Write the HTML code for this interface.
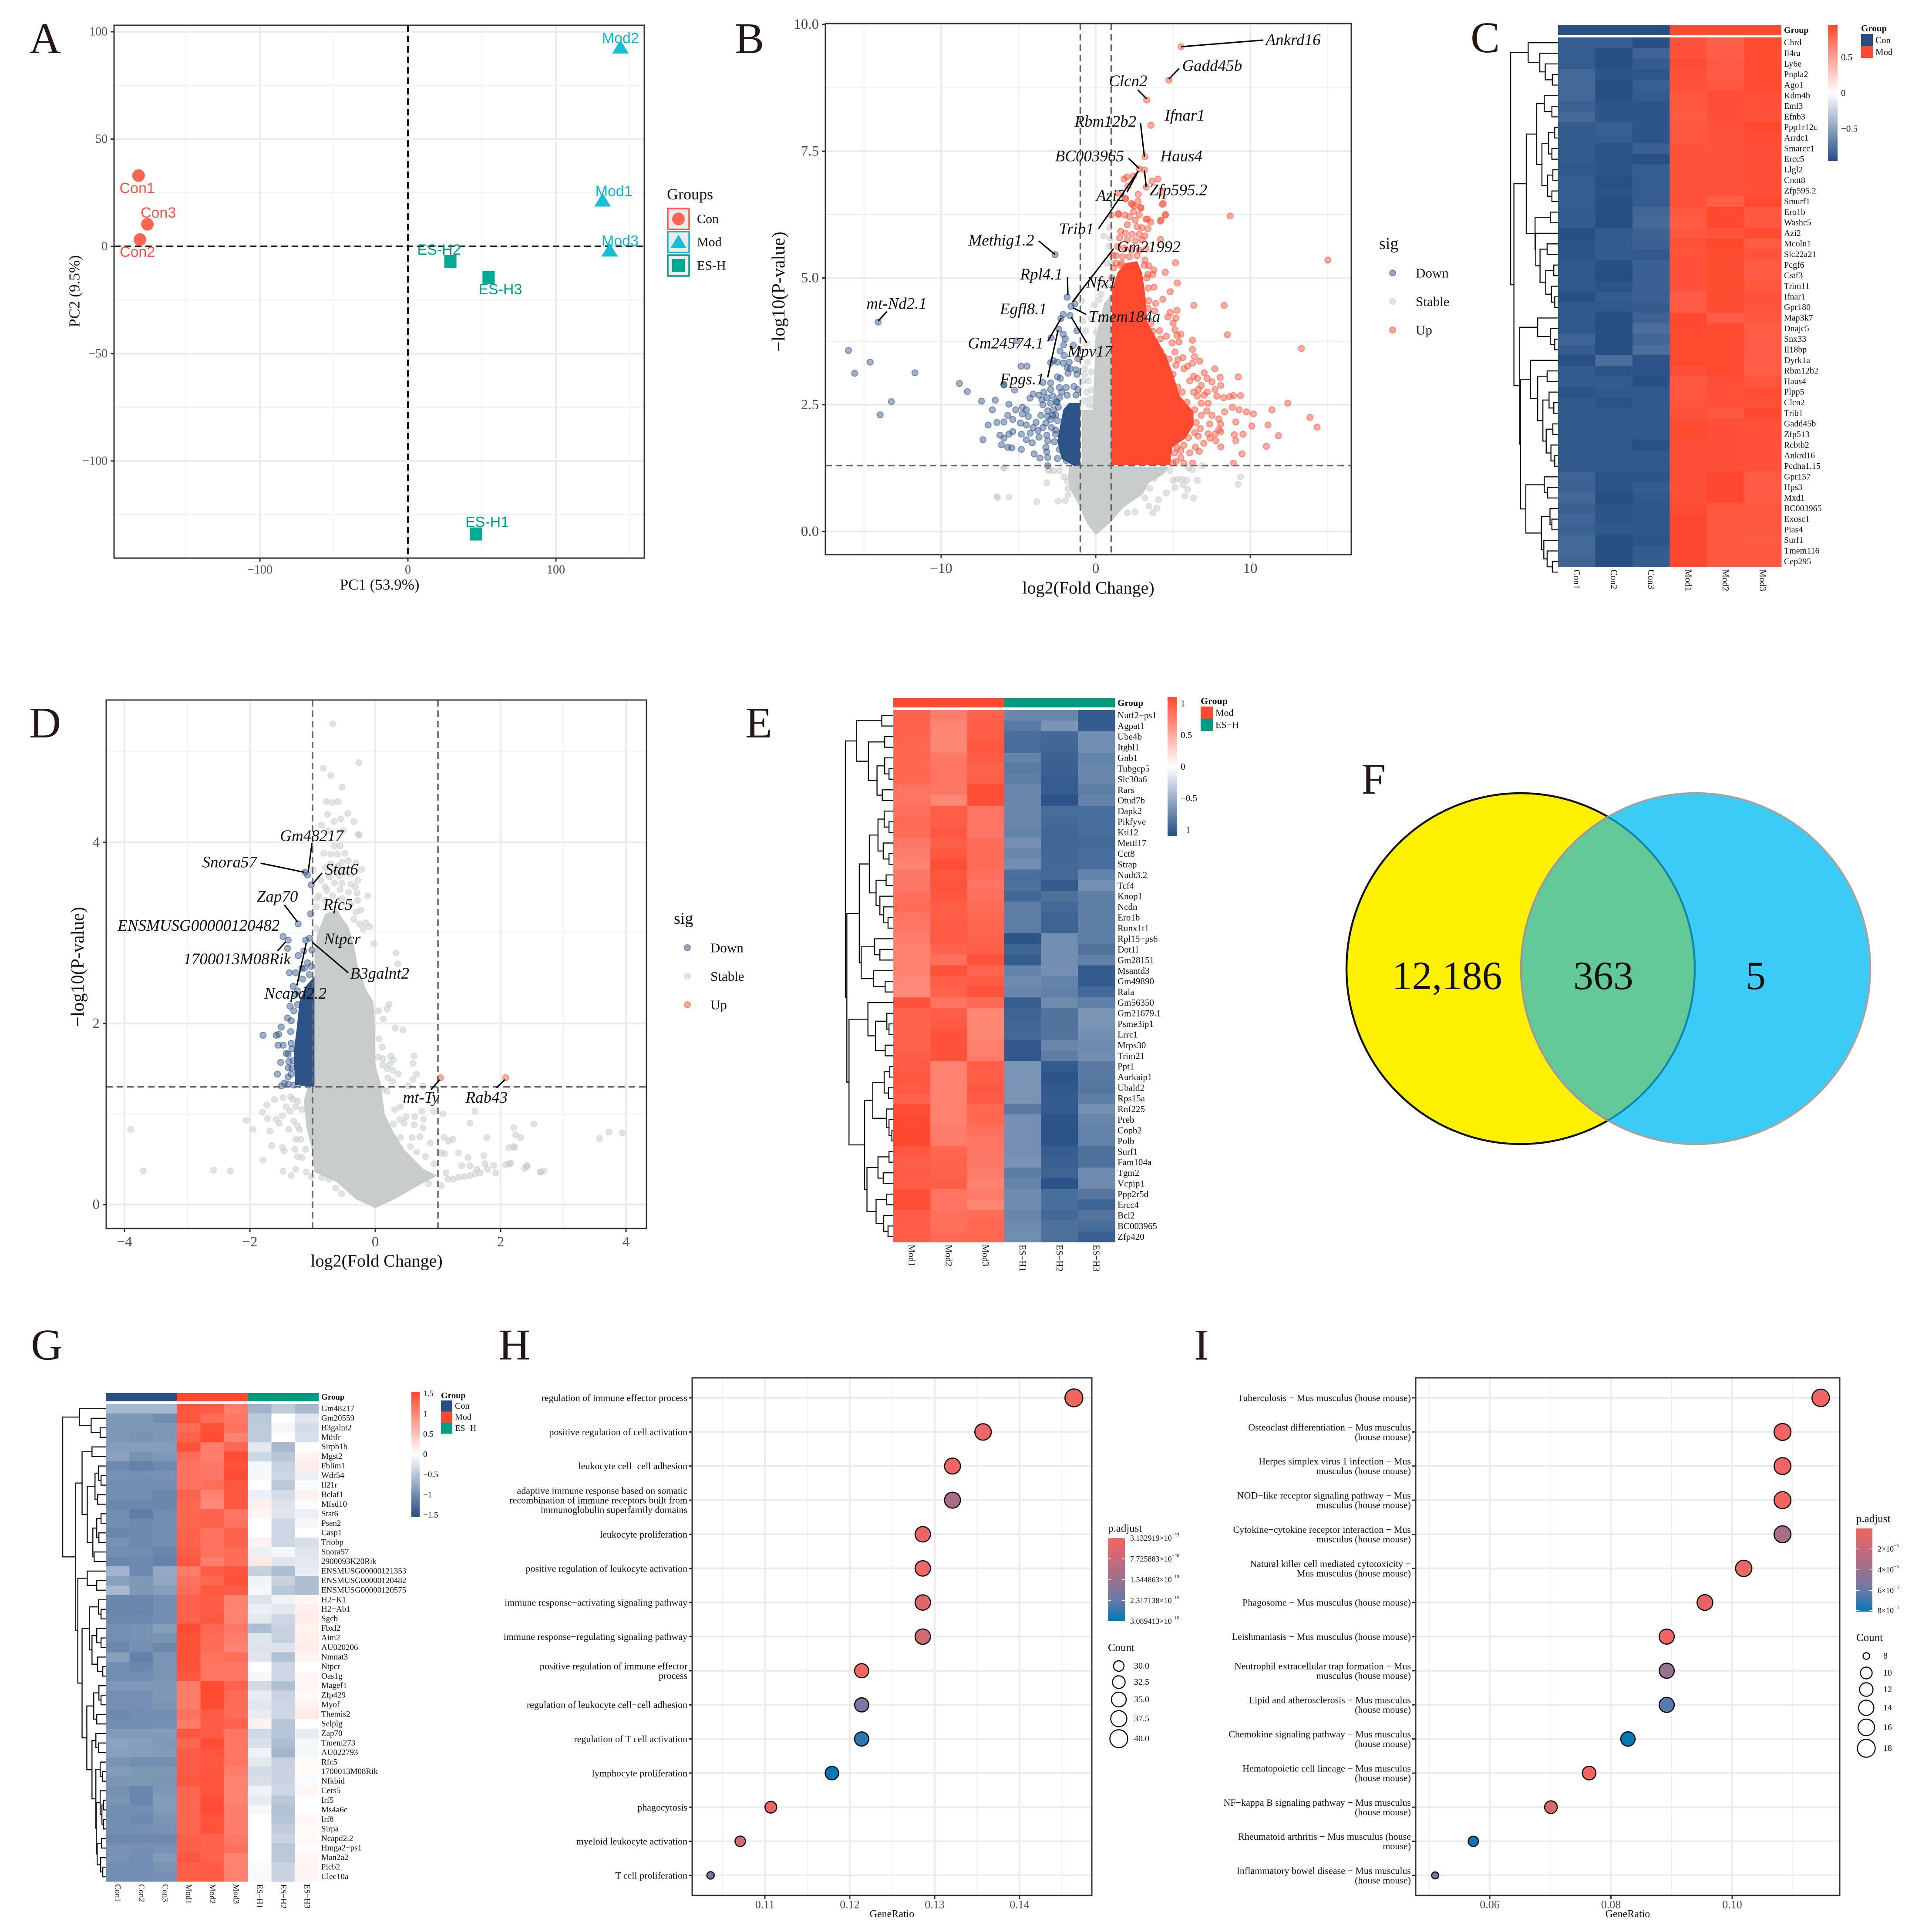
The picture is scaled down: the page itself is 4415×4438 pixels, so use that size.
<!DOCTYPE html>
<html lang="en">
<head>
<meta charset="utf-8">
<title>Multi-panel transcriptomics figure</title>
<style>
html,body{margin:0;padding:0;background:#fff;}
svg{display:block;}
text{font-family:"Liberation Serif",serif;}
.sans{font-family:"Liberation Sans",sans-serif;}
.letter{font-size:101px;fill:#231815;}
</style>
</head>
<body>
<svg id="figure" xmlns="http://www.w3.org/2000/svg" width="4415" height="4438" viewBox="0 0 4415 4438" fill="#111">
<rect x="0" y="0" width="4415" height="4438" fill="#ffffff"/>
<defs>
<clipPath id="clip-right"><ellipse cx="3895" cy="2225" rx="401" ry="403"/></clipPath>
<clipPath id="clip-left"><ellipse cx="3493" cy="2225" rx="400" ry="403"/></clipPath>
</defs>
<g id="panel-a"></g>
<g id="panel-b"></g>
<g id="panel-c"></g>
<g id="panel-d"></g>
<g id="panel-e"></g>
<g id="panel-f">
  <ellipse cx="3493" cy="2225" rx="400" ry="403" fill="#fff000" stroke="#111" stroke-width="4.5"/>
  <ellipse cx="3895" cy="2225" rx="401" ry="403" fill="#3bcdf8" stroke="#a3a3a3" stroke-width="4.5"/>
  <ellipse cx="3493" cy="2225" rx="400" ry="403" fill="#64c998" clip-path="url(#clip-right)"/>
  <ellipse cx="3895" cy="2225" rx="401" ry="403" fill="none" stroke="#9a9a9a" stroke-width="4.5" clip-path="url(#clip-left)"/>
  <ellipse cx="3493" cy="2225" rx="400" ry="403" fill="none" stroke="#0f86a8" stroke-width="4.5" clip-path="url(#clip-right)"/>
  <text x="3324" y="2272" text-anchor="middle" font-size="92">12,186</text>
  <text x="3683" y="2272" text-anchor="middle" font-size="92">363</text>
  <text x="4033" y="2272" text-anchor="middle" font-size="92">5</text>
</g>
<g id="panel-g"></g>
<g id="panel-h"></g>
<g id="panel-i"></g>
<g>
  <text class="letter" x="67" y="122">A</text>
  <text class="letter" x="1688" y="122">B</text>
  <text class="letter" x="3378" y="120">C</text>
  <text class="letter" x="67" y="1694">D</text>
  <text class="letter" x="1712" y="1694">E</text>
  <text class="letter" x="3127" y="1823">F</text>
  <text class="letter" x="71" y="3123">G</text>
  <text class="letter" x="1145" y="3123">H</text>
  <text class="letter" x="2743" y="3123">I</text>
</g>
</svg>
<script>
/* ---------- Panel A data ---------- */
const pcaCon = [["Con1",-182,33],["Con3",-176,10.3],["Con2",-181,3.2]];
const pcaMod = [["Mod2",143.6,92.7],["Mod1",131.5,21.4],["Mod3",136.3,-1.9]];
const pcaEs = [["ES-H2",28.7,-7.1],["ES-H3",54.5,-14.6],["ES-H1",45.9,-134]];
const pcaXTicks = [-100,0,100];
const pcaYTicks = [100,50,0,-50,-100];

/* ---------- Panel B data ---------- */
const bUpPoints = [[5.53,9.56],[4.73,8.9],[3.3,8.51],[3.57,8.01],[3.18,7.39],[2.81,7.15],[3.15,7.13],[3.27,6.79],[2.02,6.99],[2.44,7.01],[1.83,6.95],[2.08,6.81],[3.63,6.91],[4.03,6.95],[4.27,6.69],[4.37,6.47],[4.52,6.25],[4.21,6.14],[8.7,6.22],[1.44,6.67],[2.75,6.65],[1.92,6.57],[2.38,6.45],[2.9,6.39],[1,6.24],[1.47,6.27],[1.89,6.24],[2.44,6.31],[3.36,6.16],[15.02,5.35],[13.31,3.61],[13.86,2.25],[14.32,2.06],[8.31,4.46],[6.35,4.46],[8.52,3.88],
[1.92,6.56],[2.3,6.47],[2.74,6.51],[2.93,6.38],[2.49,6.42],[4.31,6.45],[1.48,6.25],[2.18,6.21],[2.55,6.14],[2.81,6.25],[3.25,6.16],[3.56,6.1],[2.05,6.05],[2.68,6.01],[2.99,5.99],[3.37,5.97],[1.61,5.92],[1.92,5.88],[2.36,5.86],[2.81,5.86],[3.18,5.83],[4.19,6.12],[4.5,6.24],[4.19,5.76],[1.55,5.79],[2.05,5.75],[2.55,5.73],[2.99,5.75],[1.42,5.62],[1.86,5.59],[2.3,5.55],[2.81,5.55],[3.25,5.57],[1.3,5.44],[1.74,5.42],[2.18,5.42],[2.68,5.44],[3.18,5.35],[1.3,5.29],[1.67,5.29],[3.43,5.24],[3.75,5.16],[3.37,5.07],[3.69,5.07],[4.5,5.11],[5.16,5.3],[5.28,4.9],[3.77,4.82],[4.82,4.73],[4.34,4.58],[3.43,4.55],[3.87,4.5],[3.81,4.35],[4.82,4.32],[5.26,4.36],[4.67,4.23],[5.19,4.21],[5.01,4.11],[5.13,3.98],[4.13,3.96],[5.51,3.89],[5.26,3.87],[4.57,3.85],[4.19,3.8],[5.38,3.74],[4.94,3.72],[6.26,3.77],[6.26,3.59],[5.13,3.54],[6.39,3.45],[6.73,3.36],[5.64,3.43],[5.32,3.39],[6.26,3.32],[5.95,3.26],[5.19,3.28],[7.71,3.21],[7.02,3.13],[5.7,3.21],[6.33,3.06],[7.21,3.02],[9.22,3.05],[8.05,3.04],[6.58,3.02],[6.08,2.97],[6.83,2.88],[7.52,2.95],[8.09,2.88],[6.64,2.8],[7.21,2.75],[7.71,2.8],[7.02,2.69],[6.33,2.75],[7.84,2.67],[8.28,2.64],[8.65,2.66],[8.91,2.68],[9.37,2.68],[6.58,2.67],[7.27,2.53],[6.83,2.53],[8.84,2.45],[12.43,2.53],[9.28,2.4],[9.75,2.36],[10.2,2.32],[11.4,2.4],[8.34,2.36],[7.18,2.38],[6.83,2.29],[7.52,2.29],[7.96,2.22],[9.06,2.16],[8.09,2.12],[7.37,2.12],[10.1,2.08],[11.15,2.1],[6.77,2.03],[7.96,2.01],[7.27,1.93],[7.71,1.92],[8.09,1.97],[8.97,1.91],[9.53,1.92],[11.82,1.89],[6.64,1.88],[7.4,1.84],[7.77,1.79],[9.06,1.79],[6.99,1.74],[8.09,1.67],[11.04,1.68],[9.47,1.53],[6.45,1.66],[6.7,1.58],[6.08,1.55],[5.7,1.7],[5.26,1.66],[5.51,1.46],[5.19,1.38],[6.26,1.35],[8.91,1.35],[5.7,1.35],
[3.4,4.4],[3.55,4.1],[3.7,3.95],[4.2,3.55],[4.4,3.45],[4.75,3.4],[5,3.1],[5.3,2.85],[5.6,2.75],[5.9,2.55],[6.4,2.4],[6.5,2.15],[6.4,1.95],[6,1.85],[5.5,1.6],[5.1,1.55],[5,1.35],[3.4,4.8],[3.3,5],[3.15,5.25],[1.6,5.25],[1.15,5.2],[1.05,5],[1.1,5.45]];
const bDownPoints = [[-14.08,4.13],[-2.63,5.46],[-16,3.57],[-14.6,3.34],[-15.6,3.12],[-11.7,3.13],[-8.82,2.92],[-8.31,2.76],[-13.22,2.56],[-13.95,2.3],[-7.39,2.57],[-6.5,2.59],[-5.95,2.9],[-5.13,3.76],[-6.69,2.4],[-6.96,2.1],[-7.3,1.81],[-6.1,1.71],[-6.4,2.15],[-6.2,1.9],
[-1.85,4.62],[-1.6,4.44],[-1.35,4.49],[-2.1,4.28],[-1.66,4.26],[-2.25,4.2],[-2.39,3.99],[-1.22,3.96],[-2.1,3.89],[-2.89,3.82],[-1.97,3.8],[-2.08,3.68],[-1.45,3.67],[-2.31,3.56],[-2.04,3.47],[-1.16,3.41],[-2.92,3.33],[-2.73,3.37],[-2.48,3.34],[-1.72,3.34],[-2.1,3.32],[-4.83,3.26],[-4.45,3.26],[-1.66,3.21],[-1.85,3.23],[-1.28,3.19],[-1.79,3.12],[-1.22,3.1],[-2.48,3.05],[-2.29,3.02],[-2.92,2.93],[-3.42,2.94],[-5.94,2.89],[-5.25,2.79],
[-2.35,2.84],[-1.91,2.84],[-1.41,2.86],[-2.92,2.8],[-3.36,2.75],[-1.16,2.8],[-4.05,2.71],[-4.26,2.63],[-3.67,2.69],[-3.17,2.64],[-2.79,2.67],[-2.35,2.64],[-1.85,2.69],[-1.28,2.69],[-3.48,2.6],[-3.42,2.5],[-5.62,2.51],[-2.92,2.53],[-2.54,2.56],[-4.74,2.45],[-5.18,2.4],[-4.49,2.4],[-3.11,2.38],[-2.73,2.4],[-2.42,2.45],[-5.69,2.29],[-4.36,2.27],[-3.55,2.29],[-3.11,2.27],[-2.79,2.29],[-4.74,2.32],[-5.94,2.16],[-5.37,2.21],[-4.87,2.14],[-3.86,2.15],[-2.48,2.19],[-3.23,2.14],[-2.92,2.21],[-4.49,2.1],[-4.05,2.05],[-3.42,2.05],[-2.86,2.05],[-5.37,1.97],[-4.81,1.92],[-4.24,1.94],[-3.74,1.99],[-3.17,1.9],[-2.6,1.92],[-5.62,1.92],[-5.94,1.84],[-4.49,1.81],[-4.11,1.75],[-3.67,1.86],[-3.11,1.79],[-2.67,1.77],[-5.43,1.65],[-5.69,1.66],[-4.81,1.62],[-3.23,1.66],[-2.35,1.62],[-3.99,1.53],[-3.17,1.57],[-3.61,1.45],[-3.11,1.46],[-2.48,1.44],[-3.11,1.3],[-1.91,1.4],[-2.2,2.75],[-2.6,2.3],[-2.5,2.55],[-2.6,2.0]];
const bStablePoints = [[-6.41,0.69],[-6.35,0.67],[-5.95,1.25],[-0.53,3.34],[-0.72,3.21],[-0.28,3.15],[-0.72,3.1],[-0.47,2.97],[-0.78,2.97],[-0.28,2.8],[-0.59,2.75],[-0.34,2.62],[-0.72,2.58],[-0.4,2.49],[-0.84,4.15],[-0.91,4.55],[-0.65,3.96],[0.04,3.93],[0.35,4.68],[0.23,4.57],[-0.09,4.47],[0.73,5.29],[1.02,5.29],[0.86,5.62],[0.94,5.78],[0.52,5.83],[0.88,5.99],[5.01,1.01],[5.26,1.03],[5.57,1.03],[5.89,1.01],[6.58,1.01],[9.37,1.08],[9.22,0.93],[5.13,0.87],[5.64,0.92],[4.57,0.76],[5.95,0.83],[5.76,0.7],[6.33,0.66],[4.06,0.63],[3.43,0.5],[3.94,0.46],[3.18,0.66],[2.55,0.39],[2.05,0.37],[3.69,0.37],[-1.79,0.72],[-2.42,0.6],[-1.97,0.61],[-3.82,0.59],[-5.62,0.68],[-3.17,0.96],[-2.04,1.08],[-2.35,1.2],[-2.73,1.2],[-3.04,1.22],[-5.94,1.26],[6.89,1.3],[6.26,1.22],[6.01,1.25],[-3.05,1.2],[4.8,1.2],[3.8,1.05],[3.5,0.85],[2.6,0.75],[-1.85,1.0],[-1.8,0.85],[0.3,4.9],[0.7,4.85],[-0.3,4.2],[-0.6,3.7]];
const bUpCore = [[1,1.31],[1.04,4.76],[1.42,5.11],[1.92,5.29],[2.68,5.33],[2.99,5.11],[3.12,4.85],[3.25,4.55],[3.31,4.15],[3.94,3.8],[4.57,3.45],[4.94,3.15],[5.45,2.67],[6.33,2.36],[6.33,2.1],[5.82,1.84],[4.94,1.66],[4.82,1.31]];
const bDownCore = [[-1,1.29],[-1,2.54],[-1.72,2.54],[-2.1,2.4],[-2.3,2.1],[-2.48,1.79],[-2.23,1.44],[-1.41,1.29]];
const bStableCore = [[0,-0.07],[-0.59,0.17],[-1.09,0.52],[-1.72,0.87],[-1.79,1.09],[-1.72,1.29],[-0.91,1.29],[-0.91,2.4],[-0.21,2.4],[-0.09,3.1],[-0.03,3.76],[0.29,4.2],[0.54,4.5],[1,4.68],[1,1.29],[4.69,1.27],[4.44,1.14],[3.43,0.96],[3.06,0.74],[1.8,0.48],[0.92,0.17]];
const bXTicks = [-10,0,10];
const bYTicks = [0,2.5,5,7.5,10];
const bLabels = [
 ["Ankrd16",11,9.69,5.53,9.56,10.84,9.69],["Gadd45b",5.59,9.18,4.73,8.92,5.4,9.13],["Clcn2",0.85,8.88,3.3,8.53,2.72,8.71],["Ifnar1",4.46,8.2],
 ["Rbm12b2",-1.37,8.08,2.9,8.05,3.15,7.39],["BC003965",-2.63,7.4,2.11,7.36,2.81,7.16],["Haus4",4.18,7.4],["Zfp595.2",3.48,6.73,3.15,7.12,3.27,6.79],
 ["Azi2",0.03,6.62,2.75,7.11,2.02,6.69],["Trib1",-2.38,5.96,0.18,5.97,2.75,7.11],["Methig1.2",-8.24,5.74,-3.69,5.73,-2.63,5.46],["Gm21992",1.37,5.61,1.16,5.58,-1.5,4.53],
 ["Rpl4.1",-4.89,5.07,-1.83,5.02,-1.8,4.66],["Nfx1",-0.61,4.91,-0.67,4.86,-1.47,4.53],["mt-Nd2.1",-14.84,4.49,-13.5,4.34,-14.08,4.15],["Egfl8.1",-6.2,4.38],
 ["Tmem184a",-0.46,4.23,-0.61,4.28,-1.47,4.41],["Gm24574.1",-8.27,3.71,-3.11,3.75,-2.23,4.21],["Mpv17",-1.83,3.55,-0.58,3.72,-1.59,4.23],["Fpgs.1",-6.2,3,-3.11,3.04,-2.44,3.97]];

/* ---------- Panel D data ---------- */
const dUpPoints = [[1.04,1.4],[2.08,1.4]];
const dDownPoints = [[-1.47,2.96],[-1.39,2.92],[-1.23,3.1],[-1.03,3.21],[-1.02,3.53],[-1.08,3.64],[-1.12,3.67],[-1.05,2.94],[-1.11,2.92],[-1.01,2.81],[-1.4,2.83],[-1.14,2.8],[-1.23,2.75],[-1.08,2.67],[-1.02,2.63],[-1.17,2.61],[-1.13,2.61],[-1.37,2.56],[-1.27,2.56],[-1.05,2.54],[-1.16,2.49],[-1.31,2.41],[-1.24,2.36],[-1.27,2.32],[-1.24,2.21],[-1.36,2.19],[-1.3,2.14],[-1.4,2.06],[-1.34,2.03],[-1.5,1.96],[-1.79,1.87],[-1.58,1.87],[-1.54,1.88],[-1.35,1.91],[-1.34,1.78],[-1.55,1.76],[-1.47,1.76],[-1.33,1.72],[-1.42,1.67],[-1.39,1.66],[-1.51,1.57],[-1.38,1.58],[-1.31,1.59],[-1.39,1.51],[-1.56,1.44],[-1.33,1.51],[-1.34,1.44],[-1.39,1.41],[-1.45,1.34],[-1.5,1.31],[-1.39,1.33],[-1.3,1.32]];
const dStablePoints = [[-0.68,5.31],[-0.26,4.88],[-0.83,4.82],[-0.71,4.74],[-0.53,4.61],[-0.78,4.45],[-0.68,4.44],[-0.59,4.45],[-0.44,4.32],[-0.76,4.31],[-0.55,4.26],[-0.66,4.23],[-0.34,4.23],[-0.86,4.19],[-0.75,4.13],[-0.51,4.13],[-0.26,4.08],
[-0.27,4.09],[-0.56,3.96],[-0.65,3.96],[-0.48,3.88],[-0.82,3.88],[-0.71,3.87],[-0.6,3.87],[-0.53,3.78],[-0.43,3.8],[-0.71,3.76],[-0.59,3.74],[-0.31,3.77],[-0.79,3.72],[-0.65,3.69],[-0.49,3.69],[-0.22,3.7],[-0.99,3.7],[-0.39,3.65],[-0.87,3.58],[-0.73,3.62],[-0.57,3.63],[-0.28,3.58],[-0.8,3.51],[-0.65,3.55],[-0.53,3.55],[-0.39,3.54],[-0.32,3.51],[-0.77,3.47],[-0.56,3.48],[-0.43,3.45],[-0.12,3.41],[-0.9,3.41],[-0.29,3.44],[-0.68,3.41],[-0.28,3.36],[-0.93,3.38],[-0.8,3.36],[-0.53,3.38],[-0.94,3.29],[-0.39,3.32],[-0.23,3.25],[-0.31,3.23],[-0.15,3.11],[-0.34,3.15],[-0.19,3.04],[-0.09,3.07],[-0.25,3.1],[-0.94,3.05],[-0.02,2.88],[0.33,2.78],[0.36,2.66],[0.22,2.21],[0.19,2.16],[0.13,2.05],[0.32,1.95],[0.44,1.93],[0.05,2.14],[0.06,1.83],[0.11,1.74],[0.05,1.63],[0.25,1.64],[0.29,1.6],[0.12,1.61],[0.12,1.54],[0.23,1.55],[0.62,1.64],[0.6,1.56],[0.19,1.5],[0.28,1.48],[0.66,1.44],[0.6,1.38],[0.37,1.44],[0.2,1.4],[0.28,1.36],[0.53,1.31],[0.76,1.31],[0.12,1.27],[0.19,1.25],[0.31,1.05],[0.4,1.08],[0.49,0.97],[0.63,0.97],[0.74,1.03],[0.93,1.03],[1.08,1],[1.59,1.03],[1.51,0.9],[2.53,0.89],[2.21,0.85],[2.24,0.77],[2.32,0.74],[1.78,0.74],[1.1,0.74],[1.24,0.72],[1.17,0.7],[2.13,0.63],[2.21,0.64],[0.46,0.9],[0.62,0.88],[0.76,0.85],[0.77,0.94],[0.29,0.89],[0.39,0.94],[0.4,0.74],[0.59,0.74],[0.71,0.75],[0.88,0.68],[1.33,0.57],[1.73,0.54],[1.05,0.57],[1.11,0.56],[1.48,0.52],[1.38,0.43],[1.51,0.43],[1.75,0.45],[1.89,0.43],[2.08,0.44],[2.16,0.46],[1.62,0.39],[1.79,0.39],[1.92,0.35],[2.38,0.4],[2.42,0.43],[2.63,0.36],[1.67,0.35],[1.59,0.34],[1.51,0.32],[1.42,0.31],[1.33,0.3],[1.24,0.28],[1.16,0.28],[1.13,0.35],[1.05,0.21],[0.85,0.23],[0.94,0.45],[0.8,0.53],[0.66,0.58],[0.56,0.64],
[-1.61,1.16],[-1.47,1.18],[-1.73,1.1],[-1.8,1.02],[-2.06,0.93],[-1.72,0.95],[-1.58,0.94],[-1.53,0.9],[-1.48,0.98],[-1.42,1.08],[-1.31,1.16],[-1.24,1.14],[-1.36,1.03],[-1.3,0.92],[-1.95,0.83],[-1.68,0.81],[-1.38,0.83],[-1.24,0.87],[-1.65,0.65],[-1.48,0.63],[-1.45,0.59],[-1.27,0.72],[-1.19,0.72],[-1.28,0.61],[-1.17,0.52],[-1.24,0.53],[-1.79,0.49],[-1.47,0.37],[-1.34,0.32],[-1.27,0.39],[-1.1,0.36],[-1.02,0.31],[-0.85,0.3],[-0.74,0.28],[-0.54,0.12],[-0.63,0.18],[-1.35,1.19],[-1.17,1.05],[-1.21,0.83],[-1.11,0.61],[-1.27,1.08],
[3.58,0.73],[3.73,0.8],[3.94,0.79],[-3.9,0.83],[-3.7,0.37],[-2.58,0.38],[-2.31,0.37],[2.22,0.63],[2.14,0.45],[2.42,0.42],[2.64,0.36],[2.69,0.37]];
const dDownCore = [[-0.97,2.52],[-1.11,2.41],[-1.21,2.24],[-1.25,1.96],[-1.3,1.69],[-1.28,1.32],[-0.97,1.3]];
const dStableCore = [[0,-0.04],[-0.31,0.06],[-0.62,0.25],[-0.97,0.36],[-1.02,0.64],[-1.1,0.86],[-1.14,1.14],[-1.08,1.29],[-0.97,1.3],[-0.97,2.74],[-0.93,2.98],[-0.8,3.21],[-0.62,3.26],[-0.43,3.07],[-0.34,2.87],[-0.28,2.63],[-0.15,2.38],[-0.03,2.24],[0,1.91],[0,1.55],[0.09,1.33],[0.15,1],[0.28,0.81],[0.46,0.61],[0.77,0.39],[0.99,0.32],[0.74,0.23],[0.31,0.06]];
const dXTicks = [-4,-2,0,2,4];
const dYTicks = [0,2,4];
const dLabels = [
 ["Gm48217",-1.52,4.07,-1.01,3.99,-1.07,3.67],["Snora57",-2.76,3.78,-1.83,3.77,-1.13,3.67],["Stat6",-0.8,3.7,-0.85,3.66,-1,3.54],["Zap70",-1.89,3.4,-1.45,3.31,-1.24,3.12],
 ["Rfc5",-0.83,3.31],["ENSMUSG00000120482",-4.11,3.08],["1700013M08Rik",-3.06,2.71,-1.56,2.8,-1.43,2.9],["Ntpcr",-0.82,2.93],["B3galnt2",-0.4,2.55,-0.43,2.56,-1.01,2.9],
 ["Ncapd2.2",-1.77,2.33,-1.25,2.42,-1.1,2.89],["mt-Ty",0.44,1.18,0.89,1.27,1.03,1.38],["Rab43",1.44,1.18,1.93,1.29,2.07,1.38]];

/* ---------- Panel C data ---------- */
const cGenes = ["Chrd","Il4ra","Ly6e","Pnpla2","Ago1","Kdm4b","Eml3","Efnb3","Ppp1r12c","Arrdc1","Smarcc1","Ercc5","Llgl2","Cnot8","Zfp595.2","Smurf1","Ero1b","Washc5","Azi2","Mcoln1","Slc22a21","Pcgf6","Cstf3","Trim11","Ifnar1","Gpr180","Map3k7","Dnajc5","Snx33","Il18bp","Dyrk1a","Rbm12b2","Haus4","Plpp5","Clcn2","Trib1","Gadd45b","Zfp513","Rcbtb2","Ankrd16","Pcdha1.15","Gpr157","Hps3","Mxd1","BC003965","Exosc1","Pias4","Surf1","Tmem116","Cep295"];
const cSamples = ["Con1","Con2","Con3","Mod1","Mod2","Mod3"];
const cMatrix = [[-.78,-.78,-.92,.82,.72,.92],[-.78,-.93,-.72,.82,.72,.92],[-.78,-.93,-.8,.9,.75,.92],[-.68,-.88,-.87,.85,.75,.92],[-.68,-.93,-.77,.85,.78,.93],[-.68,-.95,-.8,.78,.88,.88],[-.75,-.87,-.87,.78,.88,.85],[-.65,-.87,-.87,.75,.88,.85],[-.8,-.75,-.88,.8,.82,.95],[-.8,-.78,-.9,.8,.82,.9],[-.8,-.88,-.75,.82,.82,.88],[-.8,-.88,-.93,.82,.82,.88],[-.85,-.88,-.78,.82,.83,.88],[-.78,-.93,-.78,.82,.83,.88],[-.78,-.9,-.78,.82,.85,.88],[-.78,-.93,-.78,.83,.72,.97],[-.82,-.93,-.7,.8,.95,.78],[-.82,-.95,-.65,.75,.95,.78],[-.95,-.8,-.73,.78,.82,.92],[-.9,-.82,-.76,.88,.96,.75],[-.9,-.82,-.85,.82,.92,.82],[-.85,-.92,-.75,.85,.9,.75],[-.85,-.97,-.75,.85,.9,.75],[-.85,-.9,-.75,.85,.9,.8],[-.93,-.8,-.75,.75,.9,.82],[-.85,-.85,-.8,.75,.9,.82],[-.85,-.96,-.72,.95,.72,.78],[-.85,-.96,-.62,.93,.92,.72],[-.72,-.96,-.7,.93,.92,.72],[-.8,-.96,-.62,.93,.92,.72],[-.92,-.62,-.9,.93,.93,.72],[-.8,-.88,-.9,.88,.93,.72],[-.8,-.82,-.92,.78,.88,.8],[-.9,-.84,-.84,.78,.85,.9],[-.85,-.9,-.84,.82,.85,.88],[-.85,-.85,-.85,.82,.78,.95],[-.85,-.85,-.85,.92,.87,.85],[-.85,-.85,-.85,.92,.87,.85],[-.85,-.85,-.92,.88,.87,.85],[-.85,-.85,-.85,.88,.87,.85],[-.85,-.85,-.85,.88,.87,.85],[-.72,-.9,-.88,.88,.96,.75],[-.75,-.9,-.8,.88,.96,.75],[-.68,-.97,-.85,.88,.96,.75],[-.75,-.88,-.86,.92,.8,.8],[-.7,-.88,-.86,.95,.78,.78],[-.75,-.85,-.86,.95,.78,.78],[-.68,-.96,-.88,.95,.78,.74],[-.68,-.96,-.82,.95,.78,.78],[-.72,-.95,-.82,.95,.78,.78]];
const cTree = [1,[.63,0,[.385,0,[.27,0,[.12,0,0]]]],[.93,[.67,[.45,[.29,0,[.13,0,0]],[.34,[.2,[.07,0,0],[.13,0,0]],[.22,[.11,0,0],[.13,0,0]]]],[.485,[.16,0,0],[.47,0,[.38,[.23,0,0],[.26,[.09,0,0],[.14,0,[.07,0,0]]]]]]],[.81,[.43,0,[.16,0,[.07,0,0]]],[.79,[.58,0,[.43,[.23,0,0],[.32,[.19,0,[.09,0,0]],[.25,[.11,0,0],[.15,0,[.07,0,0]]]]]],[.68,[.29,0,[.22,0,0]],[.35,[.17,0,[.13,0,0]],[.3,0,[.23,0,[.12,0,0]]]]]]]]];

/* ---------- Panel E data ---------- */
const eGenes = ["Nutf2−ps1","Agpat1","Ube4b","Itgbl1","Gnb1","Tubgcp5","Slc30a6","Rars","Otud7b","Dapk2","Pikfyve","Kti12","Mettl17","Cct8","Strap","Nudt3.2","Tcf4","Knop1","Ncdn","Ero1b","Runx1t1","Rpl15−ps6","Dot1l","Gm28151","Msantd3","Gm49890","Rala","Gm56350","Gm21679.1","Psme3ip1","Lrrc1","Mrps30","Trim21","Ppt1","Aurkaip1","Ubald2","Rps15a","Rnf225","Preb","Copb2","Polb","Surf1","Fam104a","Tgm2","Vcpip1","Ppp2r5d","Ercc4","Bcl2","BC003965","Zfp420"];
const eSamples = ["Mod1","Mod2","Mod3","ES−H1","ES−H2","ES−H3"];
const eMatrix = [[.88,.68,.9,-.65,-.65,-1],[.88,.62,.92,-.75,-.55,-1],[.88,.62,.92,-.85,-.88,-.6],[.85,.62,.97,-.85,-.9,-.6],[.85,.72,.95,-.68,-.93,-.68],[.85,.75,.88,-.75,-.95,-.65],[.85,.75,.92,-.72,-.97,-.65],[.75,.72,1.05,-.65,-.97,-.72],[.75,.62,1.05,-.65,-1.05,-.68],[.78,.92,.75,-.65,-.85,-.85],[.82,.92,.75,-.65,-.88,-.85],[.8,.97,.72,-.68,-.9,-.85],[.72,.92,.8,-.58,-.9,-.88],[.68,.97,.82,-.65,-.9,-.85],[.65,1.05,.8,-.6,-.88,-.85],[.72,.98,.78,-.85,-.88,-.68],[.72,1,.75,-.82,-1,-.58],[.78,.97,.78,-.9,-.82,-.7],[.8,.92,.82,-.72,-.88,-.72],[.75,.92,.85,-.72,-.92,-.72],[.72,.95,.85,-.72,-.92,-.72],[.68,.95,.88,-1.05,-.6,-.72],[.65,.88,.92,-.92,-.6,-.8],[.65,.78,1,-.98,-.6,-.7],[.65,1.02,.85,-.68,-.58,-1],[.6,.92,.95,-.62,-.68,-1],[.6,.88,1,-.65,-.7,-.88],[1,.75,.82,-.98,-.62,-.7],[.88,.92,.62,-.92,-.8,-.55],[.88,.95,.62,-.9,-.8,-.55],[.88,1,.62,-.88,-.8,-.6],[.88,1,.66,-1.02,-.65,-.62],[.92,1,.68,-1.02,-.72,-.6],[.95,.65,.92,-.55,-1,-.75],[.98,.65,.92,-.55,-1.05,-.75],[.95,.65,.97,-.55,-1.02,-.78],[.88,.65,.95,-.55,-1,-.72],[1.05,.65,.85,-.75,-1,-.58],[1.08,.65,.85,-.58,-1.06,-.65],[1.1,.7,.78,-.58,-1.06,-.68],[1.1,.7,.75,-.58,-1.06,-.68],[.98,.85,.72,-.58,-.98,-.82],[.92,.88,.72,-.55,-.95,-.82],[.95,.88,.7,-.72,-.92,-.62],[.92,.92,.65,-.68,-1.06,-.62],[1.05,.75,.7,-.62,-.85,-.78],[1.05,.75,.62,-.62,-.85,-.92],[.92,.78,.82,-.65,-.88,-.8],[.92,.78,.85,-.62,-.82,-.85],[.92,.82,.85,-.6,-.82,-.95]];
const eTree = [1,[.77,[.24,0,0],[.52,[.18,0,0],[.34,[.18,0,[.09,0,0]],[.23,0,0]]]],[.97,[.71,[.5,[.32,[.19,0,[.09,0,0]],[.21,0,[.09,0,0]]],[.36,[.15,0,0],[.28,0,[.2,0,[.11,0,0]]]]],[.67,[.39,0,[.28,0,0]],[.41,0,[.17,0,0]]]],[.925,[.53,0,[.37,[.135,0,[.09,0,0]],[.17,0,0]]],[.6,[.43,[.19,[.075,0,0],[.1,0,0]],[.14,0,[.09,0,[.03,0,0]]]],[.55,[.32,[.09,0,0],[.21,0,0]],[.36,[.14,0,0],[.2,0,[.11,0,0]]]]]]]];

/* ---------- Panel G data ---------- */
const gGenes = ["Gm48217","Gm20559","B3galnt2","Mthfr","Sirpb1b","Mgst2","Fblim1","Wdr54","Il21r","Bclaf1","Mfsd10","Stat6","Psen2","Casp1","Triobp","Snora57","2900093K20Rik","ENSMUSG00000121353","ENSMUSG00000120482","ENSMUSG00000120575","H2−K1","H2−Ab1","Sgcb","Fbxl2","Aim2","AU020206","Nmnat3","Ntpcr","Oas1g","Magef1","Zfp429","Myof","Themis2","Selplg","Zap70","Tmem273","AU022793","Rfc5","1700013M08Rik","Nfkbid","Cers5","Irf5","Ms4a6c","Irf8","Sirpa","Ncapd2.2","Hmga2−ps1","Man2a2","Plcb2","Clec10a"];
const gSamples = ["Con1","Con2","Con3","Mod1","Mod2","Mod3","ES−H1","ES−H2","ES−H3"];
const gMatrix = [[-.55,-.55,-.55,1.4,1.35,1.05,-.6,-.4,-.55],[-.85,-.85,-.95,1.4,1.2,1.1,-.42,0,-.18],[-.85,-.85,-.85,1.2,1.45,1.15,-.4,-.05,-.25],[-.85,-.9,-.85,1.3,1.5,1,-.4,0,-.22],[-.8,-.8,-.8,1.45,1.05,1.25,-.15,-.55,0],[-.75,-.9,-.85,1.2,1.05,1.5,-.3,-.45,.08],[-.98,-1.05,-.98,1.15,1.1,1.45,-.05,-.35,.12],[-.9,-.93,-.9,1.15,1.1,1.5,-.05,-.3,-.1],[-.95,-.95,-.95,1.15,1.2,1.4,0,-.42,-.02],[-.95,-.95,-1,1.3,1,1.4,-.1,-.25,.08],[-1,-1,-1,1.25,.95,1.4,.1,-.2,-.02],[-.95,-1.1,-.95,1.25,1.3,1.12,.06,-.18,-.1],[-.95,-.98,-.95,1.25,1.3,1.15,0,-.3,-.05],[-1,-.98,-.95,1.3,1.15,1.3,0,-.3,0],[-.9,-.98,-.95,1.3,1.15,1.3,.08,-.3,-.22],[-.95,-.95,-1.02,1.35,1.15,1.2,-.1,-.05,-.18],[-1,-.98,-1.05,1.4,1.05,1.2,.15,-.18,-.15],[-.6,-.98,-.7,1.05,1.35,1.42,-.35,-.5,-.12],[-.78,-.85,-.72,1.15,1.25,1.45,-.08,-.32,-.5],[-.55,-.85,-.8,1.2,1.38,1.35,-.05,-.42,-.5],[-1,-1.02,-.95,1.3,1.35,1,-.2,-.08,.05],[-1,-1.02,-.95,1.3,1.35,1,-.1,-.15,.1],[-1,-.98,-.95,1.3,1.38,1,-.15,-.3,.13],[-.93,-.9,-.8,1.5,1.25,1.1,-.5,-.32,.08],[-.95,-.9,-.88,1.45,1.2,1.05,-.18,-.35,.1],[-1,-.92,-1,1.45,1.2,1,-.2,-.2,.13],[-.78,-1.05,-.88,1.45,1.15,1.2,-.18,-.48,.07],[-.95,-1,-.88,1.45,1.12,1.12,0,-.3,0],[-.95,-.95,-.88,1.4,1.12,1.1,-.05,-.3,.06],[-.85,-.85,-.85,1.05,1.5,1.3,-.28,-.5,.06],[-.92,-.92,-.85,1.05,1.5,1.22,-.12,-.32,.03],[-.92,-.92,-.88,1.05,1.5,1.2,-.18,-.3,.08],[-.98,-.95,-.95,1.15,1.35,1.2,-.12,-.3,.14],[-.95,-.95,-.93,1.05,1.35,1.3,.08,-.45,0],[-.82,-.82,-.82,1.4,1.35,1.12,-.28,-.45,-.12],[-.75,-.78,-.85,1.25,1.5,1.12,-.22,-.52,-.05],[-.78,-.8,-.82,1.35,1.42,1.12,-.08,-.58,-.05],[-.88,-.95,-.95,1.35,1.38,1.12,-.15,-.32,.03],[-.82,-.85,-.85,1.35,1.42,1.05,-.25,-.32,.02],[-.88,-.85,-.88,1.38,1.42,1,-.22,-.32,-.03],[-.92,-1.02,-.85,1.25,1.42,1,-.08,-.3,.06],[-.88,-1.02,-.82,1.25,1.48,1,-.12,-.42,0],[-.95,-.95,-.82,1.25,1.5,1.05,-.05,-.48,0],[-.95,-.98,-.88,1.25,1.42,1.05,0,-.45,.04],[-.95,-.93,-.9,1.25,1.45,1.05,0,-.38,.02],[-.98,-.98,-.98,1.32,1.3,1.1,0,-.32,.04],[-.9,-.92,-.9,1.32,1.3,1.15,0,-.42,.01],[-.9,-.95,-.82,1.4,1.3,1,0,-.42,.05],[-.95,-.95,-.88,1.32,1.35,1,-.03,-.32,.07],[-.95,-.95,-.92,1.32,1.35,1,-.04,-.32,.07]];
const gTree = [1,[.61,0,[.34,0,[.13,0,0]]],[.7,[.55,[.32,0,0],[.43,[.25,[.17,0,[.11,0,0]],[.19,0,0]],[.3,[.21,[.11,0,0],[.16,0,0]],[.27,0,0]]]],[.65,[.43,0,[.21,0,0]],[.55,[.38,[.17,0,[.11,0,0]],[.32,[.21,0,[.11,0,0]],[.19,0,[.07,0,0]]]],[.44,[.28,[.16,0,[.11,0,0]],[.21,0,0]],[.32,[.23,0,[.17,0,0]],[.23,[.13,0,[.08,0,0]],[.22,[.13,0,[.09,[.05,0,0],[.05,0,0]]],[.2,[.1,0,0],[.12,0,[.07,0,0]]]]]]]]]]];

/* ---------- Panel H data ---------- */
const hTerms = [["regulation of immune effector process"],["positive regulation of cell activation"],["leukocyte cell−cell adhesion"],["adaptive immune response based on somatic","recombination of immune receptors built from","immunoglobulin superfamily domains"],["leukocyte proliferation"],["positive regulation of leukocyte activation"],["immune response−activating signaling pathway"],["immune response−regulating signaling pathway"],["positive regulation of immune effector","process"],["regulation of leukocyte cell−cell adhesion"],["regulation of T cell activation"],["lymphocyte proliferation"],["phagocytosis"],["myeloid leukocyte activation"],["T cell proliferation"]];
const hGeneRatio = [.1464,.1357,.1321,.1321,.1286,.1286,.1286,.1286,.1214,.1214,.1214,.1179,.1107,.1071,.1036];
const hCount = [41,38,37,37,36,36,36,36,34,34,34,33,31,30,29];
const hPadjust = [0.02,0.1,0.1,1.35,0.15,0.1,0.35,0.6,0,2.05,2.8,3.09,0,0.6,2.05];
const hXTicks = [.11,.12,.13,.14];
const hCountLegend = [30,32.5,35,37.5,40];

/* ---------- Panel I data ---------- */
const iTerms = [["Tuberculosis − Mus musculus (house mouse)"],["Osteoclast differentiation − Mus musculus","(house mouse)"],["Herpes simplex virus 1 infection − Mus","musculus (house mouse)"],["NOD−like receptor signaling pathway − Mus","musculus (house mouse)"],["Cytokine−cytokine receptor interaction − Mus","musculus (house mouse)"],["Natural killer cell mediated cytotoxicity −","Mus musculus (house mouse)"],["Phagosome − Mus musculus (house mouse)"],["Leishmaniasis − Mus musculus (house mouse)"],["Neutrophil extracellular trap formation − Mus","musculus (house mouse)"],["Lipid and atherosclerosis − Mus musculus","(house mouse)"],["Chemokine signaling pathway − Mus musculus","(house mouse)"],["Hematopoietic cell lineage − Mus musculus","(house mouse)"],["NF−kappa B signaling pathway − Mus musculus","(house mouse)"],["Rheumatoid arthritis − Mus musculus (house","mouse)"],["Inflammatory bowel disease − Mus musculus","(house mouse)"]];
const iGeneRatio = [.1146,.1083,.1083,.1083,.1083,.1019,.0955,.0892,.0892,.0892,.0828,.0764,.0701,.0573,.051];
const iCount = [18,17,17,17,17,16,15,14,14,14,13,12,11,9,8];
const iPadjust = [0.1,0.1,0.1,0.05,3.6,0.3,0.6,0.1,4.4,6.4,8.1,0,1.2,8.1,5.7];
const iXTicks = [.06,.08,.10];
const iCountLegend = [8,10,12,14,16,18];

/* ---------- Helpers ---------- */
const NS = 'http://www.w3.org/2000/svg';
function shape(parent, tag, attrs, name) {
  const el = document.createElementNS(NS, tag);
  for (const k in attrs) el.setAttribute(k, attrs[k]);
  
  
  parent.appendChild(el);
  return el;
}
function label(parent, x, y, str, attrs, name) {
  const a = Object.assign({x: x, y: y, 'dominant-baseline': 'central'}, attrs);
  const el = shape(parent, 'text', a, name);
  el.textContent = str;
  return el;
}
function scale(d0, p0, d1, p1) { return v => p0 + (v - d0) * (p1 - p0) / (d1 - d0); }
function minusFmt(v) { return String(v).replace('-', '−'); }
function rgbMix(a, b, t) {
  return 'rgb(' + [0,1,2].map(i => Math.round(a[i] + (b[i] - a[i]) * t)).join(',') + ')';
}

function drawFrame(g, o) {
  const sx = o.sx, sy = o.sy;
  (o.xMinor || []).forEach(v => shape(g, 'line', {x1: sx(v), x2: sx(v), y1: o.y0, y2: o.y1, stroke: '#efefef', 'stroke-width': 2}, 'grid-minor-x'));
  (o.yMinor || []).forEach(v => shape(g, 'line', {x1: o.x0, x2: o.x1, y1: sy(v), y2: sy(v), stroke: '#efefef', 'stroke-width': 2}, 'grid-minor-y'));
  o.xTicks.forEach(v => shape(g, 'line', {x1: sx(v), x2: sx(v), y1: o.y0, y2: o.y1, stroke: '#ebebeb', 'stroke-width': 4}, 'grid-major-x'));
  o.yTicks.forEach(v => shape(g, 'line', {x1: o.x0, x2: o.x1, y1: sy(v), y2: sy(v), stroke: '#ebebeb', 'stroke-width': 4}, 'grid-major-y'));
  o.xTicks.forEach(v => {
    shape(g, 'line', {x1: sx(v), x2: sx(v), y1: o.y1, y2: o.y1 + 8, stroke: '#333', 'stroke-width': 3}, 'x-tick');
    label(g, sx(v), o.xLabelY, o.xFmt ? o.xFmt(v) : minusFmt(v), {'text-anchor': 'middle', 'font-size': o.tickFont, fill: '#4d4d4d'}, 'x-tick-label');
  });
  o.yTicks.forEach(v => {
    shape(g, 'line', {x1: o.x0 - 8, x2: o.x0, y1: sy(v), y2: sy(v), stroke: '#333', 'stroke-width': 3}, 'y-tick');
    if (!o.noYLabels) label(g, o.x0 - 15, sy(v), o.yFmt ? o.yFmt(v) : minusFmt(v), {'text-anchor': 'end', 'font-size': o.tickFont, fill: '#4d4d4d'}, 'y-tick-label');
  });
}
function drawBorder(g, o) {
  shape(g, 'rect', {x: o.x0, y: o.y0, width: o.x1 - o.x0, height: o.y1 - o.y0, fill: 'none', stroke: '#333', 'stroke-width': 3}, 'plot-border');
}

/* ---------- Panel A ---------- */
(function () {
  const g = document.getElementById('panel-a');
  const sx = scale(0, 937, 100, 1277), sy = scale(0, 566, 100, 73);
  const o = {x0: 262, x1: 1480, y0: 58, y1: 1282, sx, sy, xTicks: pcaXTicks, yTicks: pcaYTicks, xMinor: [-150,-50,50,150], yMinor: [75,25,-25,-75,-125], xLabelY: 1309, tickFont: 28};
  drawFrame(g, o);
  shape(g, 'line', {x1: sx(0), x2: sx(0), y1: 58, y2: 1282, stroke: '#111', 'stroke-width': 4, 'stroke-dasharray': '15 9'}, 'zero-vline');
  shape(g, 'line', {x1: 262, x2: 1480, y1: sy(0), y2: sy(0), stroke: '#111', 'stroke-width': 4, 'stroke-dasharray': '15 9'}, 'zero-hline');
  const conColor = '#ff6553', modColor = '#16bfd6', esColor = '#00ab94';
  pcaCon.forEach(p => { shape(g, 'circle', {cx: sx(p[1]), cy: sy(p[2]), r: 14.5, fill: conColor}, 'point-con'); });
  pcaMod.forEach(p => {
    const x = sx(p[1]), y = sy(p[2]);
    shape(g, 'polygon', {points: [x, y - 17, x + 19, y + 14, x - 19, y + 14].join(' '), fill: modColor}, 'point-mod');
  });
  pcaEs.forEach(p => { shape(g, 'rect', {x: sx(p[1]) - 14, y: sy(p[2]) - 15, width: 28, height: 30, fill: esColor}, 'point-es-h'); });
  const off = {Con1: [-3, 29], Con3: [25, -26], Con2: [-6, 29], Mod2: [0, -21], Mod1: [26, -21], Mod3: [24, -22], 'ES-H2': [-26, -27], 'ES-H3': [27, 27], 'ES-H1': [26, -27]};
  function pl(p, col) {
    const d = off[p[0]];
    label(g, sx(p[1]) + d[0], sy(p[2]) + d[1], p[0], {'text-anchor': 'middle', 'font-size': 34, fill: col, class: 'sans'}, 'sample-label');
  }
  pcaCon.forEach(p => pl(p, '#ff5340'));
  pcaMod.forEach(p => pl(p, '#0cb5d0'));
  pcaEs.forEach(p => pl(p, '#009d85'));
  drawBorder(g, o);
  label(g, 872, 1343, 'PC1 (53.9%)', {'text-anchor': 'middle', 'font-size': 35}, 'x-axis-title');
  label(g, 0, 0, 'PC2 (9.5%)', {'text-anchor': 'middle', 'font-size': 35, transform: 'translate(171,669) rotate(-90)'}, 'y-axis-title');
  label(g, 1532, 446, 'Groups', {'font-size': 36}, 'legend-title');
  const names = ['Con', 'Mod', 'ES-H'], cols = ['#ff5340', '#0cb5d0', '#009d85'], fills = [conColor, modColor, esColor], ys = [503, 556, 610];
  names.forEach((n, i) => {
    shape(g, 'rect', {x: 1534, y: ys[i] - 24, width: 49, height: 48, fill: '#ebebeb', stroke: cols[i], 'stroke-width': 3.5}, 'legend-key');
    if (i === 0) shape(g, 'circle', {cx: 1558.5, cy: ys[i], r: 14.5, fill: fills[i]}, 'legend-marker');
    if (i === 1) shape(g, 'polygon', {points: [1558.5, ys[i] - 17, 1577, ys[i] + 14, 1540, ys[i] + 14].join(' '), fill: fills[i]}, 'legend-marker');
    if (i === 2) shape(g, 'rect', {x: 1544, y: ys[i] - 15, width: 29, height: 30, fill: fills[i]}, 'legend-marker');
    label(g, 1601, ys[i], n, {'font-size': 30}, 'legend-label');
  });
})();

/* ---------- Volcano panels ---------- */
function drawVolcano(g, o) {
  const sx = o.sx, sy = o.sy;
  drawFrame(g, o);
  const colStable = '#c9caca', colDown = '#2c5287', colUp = '#ff4a30';
  const poly = arr => arr.map(p => sx(p[0]) + ',' + sy(p[1])).join(' ');
  shape(g, 'polygon', {points: poly(o.stableCore), fill: colStable}, 'stable-dense-core');
  o.stable.forEach(p => { shape(g, 'circle', {cx: sx(p[0]), cy: sy(p[1]), r: 7, fill: colStable, 'fill-opacity': .55, stroke: colStable, 'stroke-opacity': .45, 'stroke-width': 2}, 'stable-point'); });
  if (o.upCore) shape(g, 'polygon', {points: poly(o.upCore), fill: colUp}, 'up-dense-core');
  shape(g, 'polygon', {points: poly(o.downCore), fill: colDown}, 'down-dense-core');
  o.down.forEach(p => { shape(g, 'circle', {cx: sx(p[0]), cy: sy(p[1]), r: 7, fill: colDown, 'fill-opacity': .45, stroke: colDown, 'stroke-opacity': .55, 'stroke-width': 2}, 'down-point'); });
  o.up.forEach(p => { shape(g, 'circle', {cx: sx(p[0]), cy: sy(p[1]), r: 7, fill: colUp, 'fill-opacity': .45, stroke: colUp, 'stroke-opacity': .55, 'stroke-width': 2}, 'up-point'); });
  [-1, 1].forEach(v => shape(g, 'line', {x1: sx(v), x2: sx(v), y1: o.y0, y2: o.y1, stroke: '#666', 'stroke-width': 3.5, 'stroke-dasharray': '15 9'}, 'fold-threshold-line'));
  shape(g, 'line', {x1: o.x0, x2: o.x1, y1: sy(1.3), y2: sy(1.3), stroke: '#666', 'stroke-width': 3.5, 'stroke-dasharray': '15 9'}, 'pvalue-threshold-line');
  o.labels.forEach(l => {
    if (l.length > 3) shape(g, 'line', {x1: sx(l[3]), y1: sy(l[4]), x2: sx(l[5]), y2: sy(l[6]), stroke: '#000', 'stroke-width': 3.2}, 'gene-leader-line');
    label(g, sx(l[1]), sy(l[2]), l[0], {'font-size': 37, 'font-style': 'italic'}, 'gene-label');
  });
  drawBorder(g, o);
  label(g, o.xTitleX, o.xTitleY, 'log2(Fold Change)', {'text-anchor': 'middle', 'font-size': 40}, 'x-axis-title');
  label(g, 0, 0, '−log10(P-value)', {'text-anchor': 'middle', 'font-size': 42, transform: 'translate(' + o.yTitleX + ',' + o.yTitleY + ') rotate(-90)'}, 'y-axis-title');
  label(g, o.legX, o.legY, 'sig', {'font-size': 38}, 'legend-title');
  const ln = ['Down', 'Stable', 'Up'], lc = [colDown, colStable, colUp];
  ln.forEach((n, i) => {
    shape(g, 'circle', {cx: o.legX + 31, cy: o.legY + 67 + i * 65.5, r: 7, fill: lc[i], 'fill-opacity': .5, stroke: lc[i], 'stroke-opacity': .55, 'stroke-width': 2}, 'legend-marker');
    label(g, o.legX + 84, o.legY + 67 + i * 65.5, n, {'font-size': 31}, 'legend-label');
  });
}
drawVolcano(document.getElementById('panel-b'), {
  x0: 1896, x1: 3104, y0: 54, y1: 1274, sx: scale(0, 2517, 10, 2872), sy: scale(0, 1221, 10, 56),
  xTicks: bXTicks, yTicks: bYTicks, xMinor: [-15,-5,5,15], yMinor: [1.25,3.75,6.25,8.75], xLabelY: 1306, tickFont: 33, yFmt: v => v.toFixed(1),
  stableCore: bStableCore, upCore: bUpCore, downCore: bDownCore, stable: bStablePoints, down: bDownPoints, up: bUpPoints, labels: bLabels,
  xTitleX: 2500, xTitleY: 1350, yTitleX: 1789, yTitleY: 670, legX: 3168, legY: 560
});
drawVolcano(document.getElementById('panel-d'), {
  x0: 244, x1: 1485, y0: 1608, y1: 2822, sx: scale(0, 862, 2, 1150), sy: scale(0, 2767, 4, 1935),
  xTicks: dXTicks, yTicks: dYTicks, xMinor: [-3,-1,1,3], yMinor: [1,3,5], xLabelY: 2853, tickFont: 33,
  stableCore: dStableCore, downCore: dDownCore, stable: dStablePoints, down: dDownPoints, up: dUpPoints, labels: dLabels,
  xTitleX: 865, xTitleY: 2896, yTitleX: 179, yTitleY: 2221, legX: 1548, legY: 2110
});

/* ---------- Heatmap panels ---------- */
const HEAT_BLUE = [36, 79, 133], HEAT_WHITE = [255, 255, 255], HEAT_RED = [255, 72, 46];
function heatColor(v, vmax, gamma) {
  const t = Math.pow(Math.min(1, Math.abs(v) / vmax), gamma);
  return rgbMix(HEAT_WHITE, v < 0 ? HEAT_BLUE : HEAT_RED, t);
}
function drawHeatmap(g, o) {
  const rh = (o.y1 - o.y0) / o.genes.length, cw = (o.x1 - o.x0) / o.samples.length;
  const sRow = i => o.y0 + i * rh, sCol = j => o.x0 + j * cw;
  o.groups.forEach(gr => {
    shape(g, 'rect', {x: sCol(gr[0]), y: o.annY0, width: gr[1] * cw, height: o.annY1 - o.annY0, fill: gr[2], 'shape-rendering': 'crispEdges'}, 'group-annotation-bar');
  });
  label(g, o.labelX, (o.annY0 + o.annY1) / 2, 'Group', {'font-size': o.font, 'font-weight': 'bold'}, 'group-annotation-label');
  o.matrix.forEach((row, i) => row.forEach((v, j) => {
    shape(g, 'rect', {x: sCol(j), y: sRow(i), width: cw + .5, height: rh + .5, fill: heatColor(v, o.vmax, o.gamma), 'shape-rendering': 'crispEdges'}, 'heatmap-cell');
  }));
  o.genes.forEach((n, i) => label(g, o.labelX, sRow(i) + rh / 2, n, {'font-size': o.font}, 'gene-label'));
  o.samples.forEach((n, j) => label(g, 0, 0, n, {'font-size': o.colFont || o.font, transform: 'translate(' + (sCol(j) + cw / 2) + ',' + (o.y1 + 6) + ') rotate(90)'}, 'sample-label'));
  let leaf = 0, d = '';
  const tw = o.x0 - o.treeLeft;
  (function walk(n) {
    if (!Array.isArray(n)) { const y = sRow(leaf) + rh / 2; leaf++; return {x: o.x0, y: y}; }
    const a = walk(n[1]), b = walk(n[2]), x = o.x0 - n[0] * tw;
    d += 'M' + a.x + ' ' + a.y + 'H' + x + 'V' + b.y + 'H' + b.x;
    return {x: x, y: (a.y + b.y) / 2};
  })(o.tree);
  shape(g, 'path', {d: d, fill: 'none', stroke: '#111', 'stroke-width': 2.4}, 'row-dendrogram');
  const gid = 'bar-' + g.id;
  const defs = shape(g, 'defs', {}, 'colorbar-defs');
  const lg = shape(defs, 'linearGradient', {id: gid, x1: 0, y1: 0, x2: 0, y2: 1}, 'colorbar-gradient');
  [[0, HEAT_RED], [.5, HEAT_WHITE], [1, HEAT_BLUE]].forEach(s => {
    shape(lg, 'stop', {offset: s[0], 'stop-color': rgbMix(s[1], s[1], 0)}, 'gradient-stop');
  });
  shape(g, 'rect', {x: o.barX0, y: o.barY0, width: o.barX1 - o.barX0, height: o.barY1 - o.barY0, fill: 'url(#' + gid + ')'}, 'colorbar');
  const sv = scale(o.vmax, o.barY0, -o.vmax, o.barY1);
  o.barTicks.forEach(v => label(g, o.barX1 + 8, sv(v), minusFmt(v), {'font-size': o.barFont}, 'colorbar-tick-label'));
  label(g, o.legX, o.legTitleY, 'Group', {'font-size': o.font + 1, 'font-weight': 'bold'}, 'legend-title');
  o.legend.forEach((l, i) => {
    shape(g, 'rect', {x: o.legX, y: o.legY0 + i * o.legH, width: o.legW, height: o.legH, fill: l[1], 'shape-rendering': 'crispEdges'}, 'legend-swatch');
    label(g, o.legX + o.legW + 6, o.legY0 + (i + .5) * o.legH, l[0], {'font-size': o.font + 1}, 'legend-label');
  });
}
const GROUP_CON = '#254f85', GROUP_MOD = '#ff4a30', GROUP_ES = '#009c82';
drawHeatmap(document.getElementById('panel-c'), {
  x0: 3579, x1: 4092, y0: 86, y1: 1302, annY0: 58, annY1: 81, genes: cGenes, samples: cSamples, matrix: cMatrix, vmax: .955, gamma: .45, tree: cTree, treeLeft: 3470,
  groups: [[0, 3, GROUP_CON], [3, 3, GROUP_MOD]], labelX: 4098, font: 20, colFont: 21,
  barX0: 4199, barX1: 4221, barY0: 57, barY1: 370, barTicks: [.5, 0, -.5], barFont: 21,
  legX: 4275, legTitleY: 65, legY0: 78, legH: 27.5, legW: 27, legend: [['Con', GROUP_CON], ['Mod', GROUP_MOD]]
});
drawHeatmap(document.getElementById('panel-e'), {
  x0: 2052, x1: 2561, y0: 1631, y1: 2853, annY0: 1604, annY1: 1625, genes: eGenes, samples: eSamples, matrix: eMatrix, vmax: 1.1, gamma: .72, tree: eTree, treeLeft: 1942,
  groups: [[0, 3, GROUP_MOD], [3, 3, GROUP_ES]], labelX: 2567, font: 21, colFont: 21,
  barX0: 2682, barX1: 2704, barY0: 1601, barY1: 1921, barTicks: [1, .5, 0, -.5, -1], barFont: 21,
  legX: 2758, legTitleY: 1610, legY0: 1623, legH: 28, legW: 28, legend: [['Mod', GROUP_MOD], ['ES−H', GROUP_ES]]
});
drawHeatmap(document.getElementById('panel-g'), {
  x0: 243, x1: 732, y0: 3225, y1: 4322, annY0: 3200, annY1: 3219, genes: gGenes, samples: gSamples, matrix: gMatrix, vmax: 1.54, gamma: .9, tree: gTree, treeLeft: 144,
  groups: [[0, 3, GROUP_CON], [3, 3, GROUP_MOD], [6, 3, GROUP_ES]], labelX: 738, font: 19, colFont: 19,
  barX0: 945, barX1: 964, barY0: 3198, barY1: 3484, barTicks: [1.5, 1, .5, 0, -.5, -1, -1.5], barFont: 19,
  legX: 1013, legTitleY: 3206, legY0: 3217, legH: 25.5, legW: 26, legend: [['Con', GROUP_CON], ['Mod', GROUP_MOD], ['ES−H', GROUP_ES]]
});

/* ---------- Dot plots ---------- */
const DOT_STOPS = [[0, [242, 101, 96]], [.5, [158, 111, 141]], [.75, [105, 121, 169]], [1, [0, 121, 181]]];
function dotColor(t) {
  t = Math.max(0, Math.min(1, t));
  for (let i = 1; i < DOT_STOPS.length; i++) {
    if (t <= DOT_STOPS[i][0]) {
      const a = DOT_STOPS[i - 1], b = DOT_STOPS[i];
      return rgbMix(a[1], b[1], (t - a[0]) / (b[0] - a[0]));
    }
  }
  return 'rgb(0,121,181)';
}
function drawDotplot(g, o) {
  const sx = o.sx, catY = scale(0, 3211, 14, 4308);
  const cats = o.terms.map((t, i) => i);
  drawFrame(g, {x0: o.x0, x1: o.x1, y0: 3165, y1: 4354, sx: sx, sy: catY, xTicks: o.xTicks, yTicks: cats, xMinor: o.xMinor, xLabelY: 4375, tickFont: 26, noYLabels: true, xFmt: o.xFmt});
  const cmin = Math.min.apply(null, o.counts), cmax = Math.max.apply(null, o.counts);
  const dia = c => o.dMin + (o.dMax - o.dMin) * Math.sqrt(Math.max(0, c - cmin) / (cmax - cmin));
  o.terms.forEach((lines, i) => {
    lines.forEach((ln, k) => {
      label(g, o.x0 - 11, catY(i) + (k - (lines.length - 1) / 2) * 22, ln, {'text-anchor': 'end', 'font-size': 22}, 'term-label');
    });
    shape(g, 'circle', {cx: sx(o.ratio[i]), cy: catY(i), r: dia(o.counts[i]) / 2, fill: dotColor(o.padj[i] / o.padjMax), stroke: '#000', 'stroke-width': 2.5}, 'enrichment-dot');
  });
  drawBorder(g, {x0: o.x0, x1: o.x1, y0: 3165, y1: 4354});
  label(g, (o.x0 + o.x1) / 2, 4397, 'GeneRatio', {'text-anchor': 'middle', 'font-size': 24}, 'x-axis-title');
  const gid = 'bar-' + g.id;
  const defs = shape(g, 'defs', {}, 'colorbar-defs');
  const lg = shape(defs, 'linearGradient', {id: gid, x1: 0, y1: 0, x2: 0, y2: 1}, 'colorbar-gradient');
  DOT_STOPS.forEach(s => {
    shape(lg, 'stop', {offset: s[0], 'stop-color': rgbMix(s[1], s[1], 0)}, 'gradient-stop');
  });
  label(g, o.barX0, o.barY0 - 22, 'p.adjust', {'font-size': 25}, 'colorbar-title');
  shape(g, 'rect', {x: o.barX0, y: o.barY0, width: o.barX1 - o.barX0, height: o.barY1 - o.barY0, fill: 'url(#' + gid + ')'}, 'colorbar');
  o.barTicks.forEach(t => {
    const y = o.barY0 + t[0] * (o.barY1 - o.barY0);
    shape(g, 'line', {x1: o.barX0, x2: o.barX0 + 7, y1: y, y2: y, stroke: '#fff', 'stroke-width': 1.5}, 'colorbar-tick');
    shape(g, 'line', {x1: o.barX1 - 7, x2: o.barX1, y1: y, y2: y, stroke: '#fff', 'stroke-width': 1.5}, 'colorbar-tick');
    const tx = label(g, o.barX1 + 12, y, t[1], {'font-size': 18}, 'colorbar-tick-label');
    const sup = shape(tx, 'tspan', {dy: -7, 'font-size': 11}, 'colorbar-tick-exponent');
    sup.textContent = t[2];
  });
  label(g, o.barX0, o.countTitleY, 'Count', {'font-size': 25}, 'size-legend-title');
  o.countLegend.forEach((c, i) => {
    shape(g, 'circle', {cx: o.countX, cy: o.countYs[i], r: o.countDs[i] / 2, fill: '#fff', stroke: '#000', 'stroke-width': 2.4}, 'size-legend-circle');
    label(g, o.countX + o.countLabelDx, o.countYs[i], o.countFmt(c), {'font-size': 20}, 'size-legend-label');
  });
}
drawDotplot(document.getElementById('panel-h'), {
  x0: 1590, x1: 2508, sx: scale(.11, 1757, .14, 2342), xTicks: hXTicks, xMinor: [.105,.115,.125,.135,.145], xFmt: v => v.toFixed(2),
  terms: hTerms, ratio: hGeneRatio, counts: hCount, padj: hPadjust, padjMax: 3.09, dMin: 17, dMax: 41,
  barX0: 2545, barX1: 2584, barY0: 3533, barY1: 3724,
  barTicks: [[0, '3.132919×10', '−23'], [.25, '7.725883×10', '−20'], [.5, '1.544863×10', '−19'], [.75, '2.317138×10', '−19'], [1, '3.089413×10', '−19']],
  countTitleY: 3785, countLegend: hCountLegend, countX: 2570, countYs: [3827, 3864, 3904, 3948, 3994], countDs: [24, 29, 34, 37, 41], countLabelDx: 35, countFmt: c => c.toFixed(1)
});
drawDotplot(document.getElementById('panel-i'), {
  x0: 3252, x1: 4226, sx: scale(.06, 3422, .10, 3979), xTicks: iXTicks, xMinor: [.05,.07,.09,.11], xFmt: v => v.toFixed(2),
  terms: iTerms, ratio: iGeneRatio, counts: iCount, padj: iPadjust, padjMax: 8.1, dMin: 16, dMax: 40,
  barX0: 4264, barX1: 4301, barY0: 3511, barY1: 3702,
  barTicks: [[.247, '2×10', '−5'], [.498, '4×10', '−5'], [.745, '6×10', '−5'], [.986, '8×10', '−5']],
  countTitleY: 3762, countLegend: iCountLegend, countX: 4287, countYs: [3804, 3843, 3881, 3923, 3968, 4016], countDs: [15, 27, 31, 35, 38, 41], countLabelDx: 39, countFmt: c => String(c)
});
</script>
</body>
</html>
